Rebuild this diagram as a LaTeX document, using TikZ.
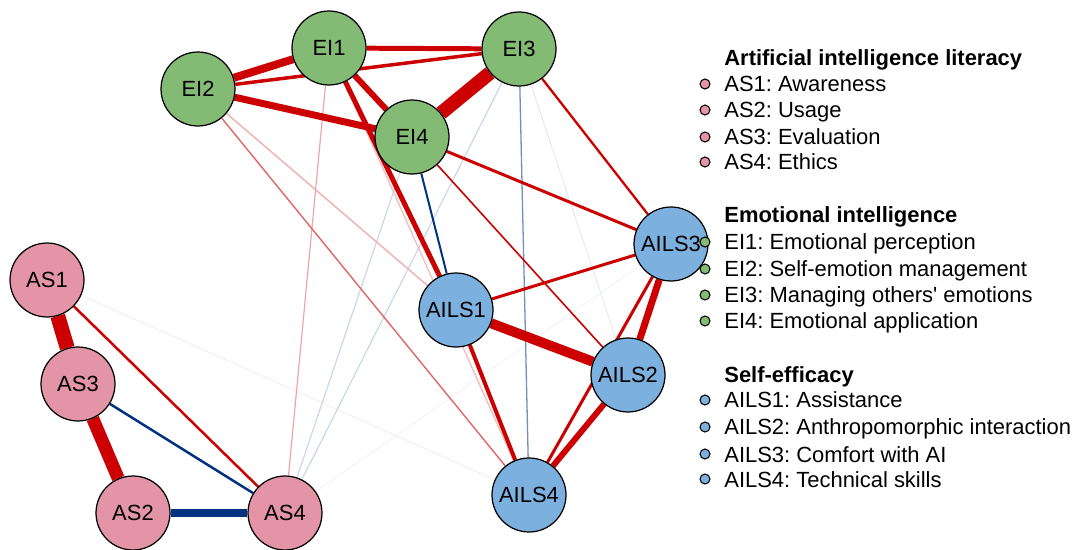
\documentclass[tikz,border=0pt]{standalone}
\usepackage{fontspec}
\setmainfont{Liberation Sans}
\usepackage{tikz}
\definecolor{PosRed}{HTML}{CC0000}
\definecolor{NegBlue}{HTML}{003380}
\definecolor{LitPink}{HTML}{E394A7}
\definecolor{EmoGreen}{HTML}{84BB74}
\definecolor{EffBlue}{HTML}{7CB0DE}
\pgfdeclarelayer{edges}
\pgfsetlayers{edges,main}
\frenchspacing
\begin{document}
\begin{tikzpicture}[x=0.02cm,y=-0.02cm,font=\fontsize{12.5}{15}\selectfont,
      var/.style={circle,draw=black,line width=0.7pt,minimum size=1.48cm,
                  inner sep=0pt},
      wpx/.style={line width=#1*0.567pt},
      dot/.style={circle,draw=black,line width=0.6pt,minimum size=0.2cm,
                  inner sep=0pt},
      legitem/.style={anchor=base west,inner sep=0pt},
      leghead/.style={legitem,font=\fontsize{12.5}{15}\selectfont\bfseries}]
    \useasboundingbox (0,0) rectangle (1075,550);

    % Items, placed as in the network layout.
    \foreach \n/\x/\y/\c in {
        EI1/329/48/EmoGreen,EI2/198/89/EmoGreen,EI3/519/49/EmoGreen,
        EI4/412/137/EmoGreen,AS1/47/280/LitPink,AS3/78/384/LitPink,
        AS2/133/513/LitPink,AS4/285/513/LitPink,AILS1/456/310/EffBlue,
        AILS3/671/244/EffBlue,AILS2/628/375/EffBlue,AILS4/529/495/EffBlue}{%
      \node[var,fill=\c] (\n) at (\x,\y) {\n};
    }

    % Partial correlations, weakest first; red positive, blue negative.
    \begin{pgfonlayer}{edges}
      \foreach \a/\b/\w/\c in {
          AILS3/AS4/1/NegBlue!6,EI3/AILS2/1/NegBlue!10,AS1/AILS4/1/PosRed!8,
          EI3/AS4/1.2/NegBlue!20,EI4/AS4/1.2/NegBlue!20,
          EI1/AILS4/1.4/PosRed!25,EI1/AS4/1.2/PosRed!35,
          EI2/AILS1/1.5/PosRed!30,EI3/AILS4/1.3/NegBlue!55,
          EI2/AILS4/1.4/PosRed!60,EI4/AILS2/1.6/PosRed,EI4/AILS1/2/NegBlue,
          EI3/AILS3/2.3/PosRed,AS1/AS4/2.5/PosRed,AS3/AS4/2.5/NegBlue,
          AILS1/AILS3/3/PosRed,AILS3/AILS4/3/PosRed,EI4/AILS3/3/PosRed,
          EI2/EI3/3.5/PosRed,AILS1/AILS4/4/PosRed,EI1/AILS1/5/PosRed,
          EI1/EI3/5/PosRed,EI1/EI4/6/PosRed,AILS2/AILS4/6/PosRed,
          EI2/EI4/7/PosRed,AILS3/AILS2/7/PosRed,EI1/EI2/8/PosRed,
          AS2/AS4/9/NegBlue,AILS1/AILS2/10/PosRed,AS3/AS2/13/PosRed,
          EI3/EI4/14/PosRed,AS1/AS3/15/PosRed}{%
        \draw[wpx=\w,draw=\c] (\a) -- (\b);
      }
    \end{pgfonlayer}

    % Legend
    \foreach \k/\head/\y in {1/Artificial intelligence literacy/66,
        2/Emotional intelligence/223,3/Self-efficacy/382}{%
      \node[leghead] (head\k) at (724,\y) {\head};
    }
    \foreach \k/\txt/\y/\c in {
        1/AS1: Awareness/92/LitPink,2/AS2: Usage/118/LitPink,
        3/AS3: Evaluation/145/LitPink,4/AS4: Ethics/170/LitPink,
        5/EI1: Emotional perception/250/EmoGreen,
        6/EI2: Self-emotion management/277/EmoGreen,
        7/{EI3: Managing others\textquotesingle{} emotions}/303/EmoGreen,
        8/EI4: Emotional application/329/EmoGreen,
        9/AILS1: Assistance/408/EffBlue,
        10/AILS2: Anthropomorphic interaction/435/EffBlue,
        11/AILS3: Comfort with AI/462/EffBlue,
        12/AILS4: Technical skills/487/EffBlue}{%
      \node[dot,fill=\c] (dot\k) at (705,\y-8) {};
      \node[legitem] (item\k) at (724,\y) {\txt};
    }
  \end{tikzpicture}
\end{document}
